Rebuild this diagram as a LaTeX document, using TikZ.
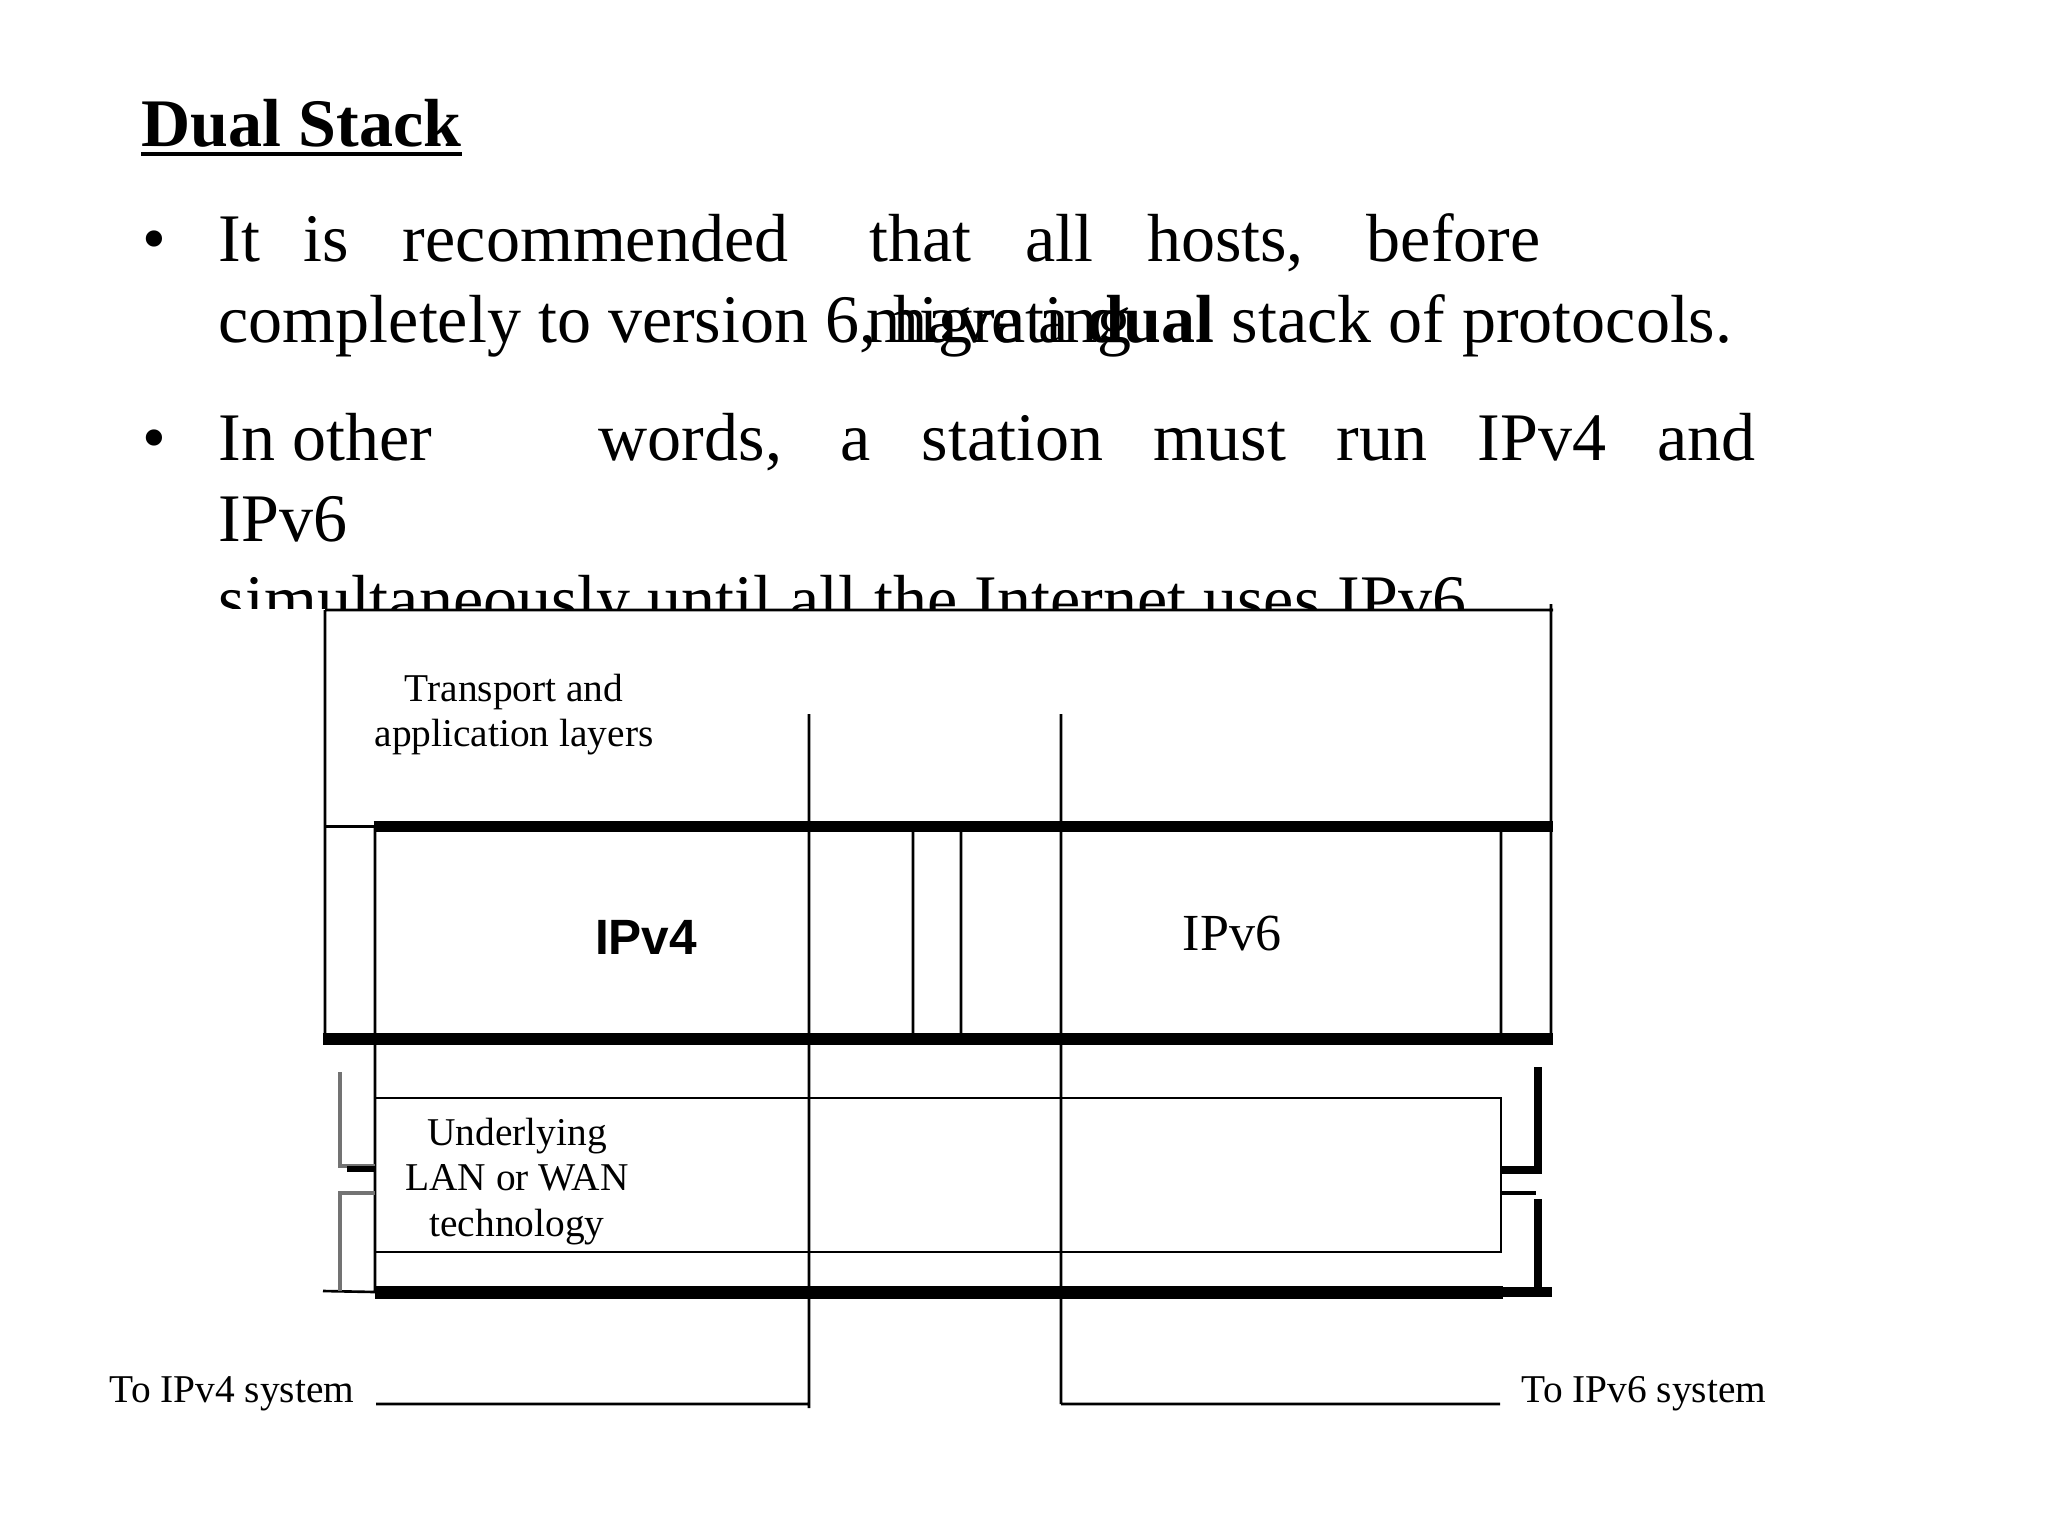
\documentclass[tikz,border=0pt]{standalone}
\usepackage{fontspec}
\setmainfont{Liberation Serif}
\newfontfamily\arialfont{Liberation Sans}
\begin{document}
\begin{tikzpicture}[x=0.01cm,y=-0.01cm,line join=miter,line cap=butt,
	txt/.style={inner sep=0pt,anchor=base west,font=\fontsize{19.35}{23}\selectfont},
	lbl/.style={inner sep=0pt,anchor=base,font=\fontsize{11.2}{13}\selectfont},
	rule/.style={line width=0.75pt},
	bar/.style={line width=3.3pt},
	brk/.style={line width=1.1pt,black!55}]
	\useasboundingbox (0,0) rectangle (2048,1536);
	% slide text
	\node[txt,font=\fontsize{19.35}{23}\selectfont\bfseries] (title) at (141,146) {Dual Stack};
	\draw[line width=1.1pt] ([yshift=-2.3pt]title.base west) -- ([yshift=-2.3pt]title.base east);
	\foreach \y [count=\i] in {261,460}{\node[txt] (dot\i) at (142,\y) {•};}
	\node[txt] (l1) at (218,261) {\makebox[375.9pt][s]{It\hspace{-0.15em} is recommended\hspace{0.4em} that all hosts, before}};
	\node[txt] (l2) at (218,342) {completely to version 6, have a \textbf{dual} stack of protocols.};
	\node[txt] (l2b) at (866,342) {migrating};
	\node[txt] (l3) at (218,460) {In other};
	\node[txt] (l3b) at (598,460) {\makebox[328.9pt][s]{words, a station must run IPv4 and}};
	\node[txt] (l4) at (218,541) {IPv6};
	\node[txt] (l5) at (218,622) {simultaneously until all the Internet uses IPv6.};
	% the figure covers the last line
	\fill[white] (90,609) rectangle (1800,1440);
	% stack
	\foreach \x [count=\i] in {325,375,809,913,961,1061,1501,1551}{
		\coordinate (P\i) at (\x,826.5);
		\coordinate (Q\i) at (\x,1039);}
	\coordinate (TL) at (325,610);
	\coordinate (TR) at (1553,610);
	\coordinate (TT) at (1551,604);
	\coordinate (V1) at (809,714);
	\coordinate (V2) at (1061,714);
	\coordinate (W1) at (809,1408);
	\coordinate (W0) at (809,1404);
	\coordinate (W2) at (1061,1404);
	\coordinate (G1) at (375,1098);
	\coordinate (G2) at (1501,1252);
	\coordinate (H1) at (323,1291);
	\coordinate (H2) at (375,1292);
	\coordinate (H3) at (1503,1292);
	\coordinate (H4) at (1552,1292);
	\coordinate (S1) at (376,1404);
	\coordinate (S2) at (1500,1404);
	\draw[rule] (TL)--(TR) (TL)--(Q1) (TT)--(Q8) (P1)--(P2) (P2)--(H2) (V1)--(W1) (V2)--(W2)
		(P4)--(Q4) (P5)--(Q5) (P7)--(Q7) (H1)--(H2) (S1)--(W0) (W2)--(S2);
	\draw[rule] (G1) rectangle (G2);
	\draw[bar] ([xshift=-0.4pt]P2)--([xshift=0.6pt]P8) ([xshift=-0.6pt]Q1)--([xshift=0.6pt]Q8);
	\draw[line width=3.7pt] (H2)--(H3);
	\draw[line width=2.7pt] (H3)--(H4);
	% side brackets
	\coordinate (K1) at (340,1072);
	\coordinate (K2) at (340,1166);
	\coordinate (K3) at (375,1166);
	\coordinate (K4) at (375,1193);
	\coordinate (K5) at (340,1193);
	\coordinate (K6) at (340,1291);
	\coordinate (K7) at (347,1169);
	\coordinate (K8) at (375,1169);
	\draw[brk] (K1)--(K2)--(K3) (K4)--(K5)--(K6);
	\draw[line width=1.7pt] (K7)--(K8);
	\coordinate (M1) at (1538,1067);
	\coordinate (M2) at (1538,1170);
	\coordinate (M3) at (1502,1170);
	\coordinate (M4) at (1502,1193);
	\coordinate (M5) at (1536,1193);
	\coordinate (M6) at (1538,1199);
	\coordinate (M7) at (1538,1291);
	\draw[line width=2.3pt] (M1)--(M2)--(M3) (M6)--(M7);
	\draw[line width=1.4pt] (M4)--(M5);
	% labels
	\foreach \t [count=\i] in {Transport and, application layers}{
		\node[lbl] (tr\i) at (514,{656.7+45*\i}) {\t};}
	\foreach \t [count=\i] in {Underlying, LAN or WAN, technology}{
		\node[lbl] (un\i) at (517,{1099.3+45.8*\i}) {\t};}
	\node[lbl,font=\arialfont\bfseries\fontsize{14.1}{17}\selectfont] (v4) at (646,954) {IPv4};
	\node[lbl,font=\fontsize{14.8}{17}\selectfont] (v6) at (1232,950) {IPv6};
	\node[lbl,anchor=base west] (to4) at (109,1402) {To IPv4 system};
	\node[lbl,anchor=base west] (to6) at (1521,1402) {To IPv6 system};
\end{tikzpicture}
\end{document}
